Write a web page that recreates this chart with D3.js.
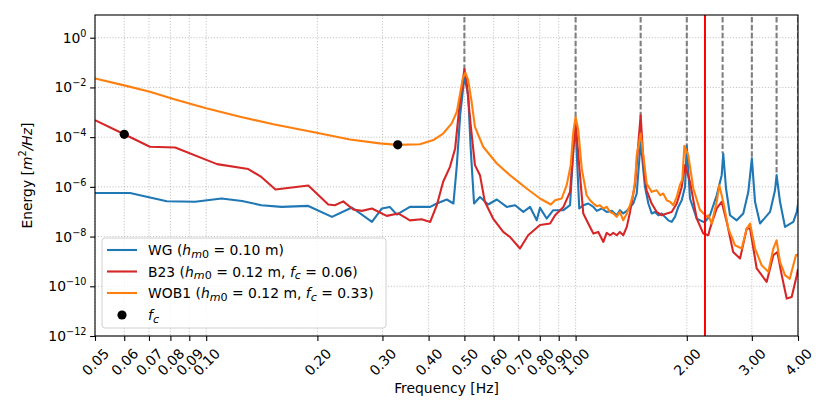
<!DOCTYPE html>
<html>
<head>
<meta charset="utf-8">
<script src="https://cdn.jsdelivr.net/npm/d3@7"></script>
<style>
  body { margin: 0; background: #fff; }
  svg { display: block; font-family: "DejaVu Sans", sans-serif; }
</style>
</head>
<body>
<svg id="chart" width="830" height="415"></svg>
<script>
// spectra (frequency in Hz, energy in m^2/Hz)
var wgFreq = [0.05, 0.0622, 0.0782, 0.0933, 0.110, 0.125, 0.141, 0.160, 0.189, 0.219,
  0.248, 0.281, 0.299, 0.314, 0.328, 0.356, 0.364, 0.404, 0.421, 0.448,
  0.467, 0.477, 0.487, 0.5, 0.512, 0.520, 0.531, 0.551, 0.580, 0.612,
  0.651, 0.686, 0.722, 0.753, 0.785, 0.801, 0.835, 0.870, 0.927, 0.966,
  0.986, 1.0, 1.023, 1.049, 1.082, 1.117, 1.141, 1.177, 1.214, 1.253,
  1.292, 1.318, 1.346, 1.376, 1.404, 1.433, 1.464, 1.5, 1.541, 1.574,
  1.607, 1.641, 1.675, 1.71, 1.745, 1.782, 1.820, 1.858, 1.897, 1.938,
  1.978, 2.0, 2.04, 2.128, 2.217, 2.24, 2.311, 2.41, 2.486, 2.51,
  2.554, 2.618, 2.73, 2.844, 2.935, 3.0, 3.06, 3.157, 3.36, 3.466,
  3.5, 3.576, 3.689, 3.885, 3.97, 4.0];
var wgEnergy = [5.7e-7, 5.7e-7, 2.65e-7, 2.5e-7, 3.4e-7, 2.7e-7, 1.83e-7, 1.56e-7, 1.71e-7, 6.2e-8,
  1.48e-7, 3.9e-8, 1.35e-7, 1.56e-7, 7.7e-8, 1.56e-7, 1.56e-7, 1.56e-7, 2.14e-7, 3.1e-7,
  2.14e-7, 7.5e-6, 7.7e-4, 0.027, 4.9e-3, 3.5e-5, 2.14e-7, 3.9e-7, 1.95e-7, 3.1e-7,
  1.56e-7, 1.83e-7, 9.8e-8, 1.56e-7, 4.5e-8, 1.43e-7, 5.3e-8, 1.15e-7, 1.15e-7, 1.83e-7,
  3.5e-5, 2.5e-4, 1.35e-7, 1.83e-7, 2.14e-7, 1.56e-7, 1.08e-7, 1.35e-7, 9.8e-8, 1.08e-7,
  7.2e-8, 1.15e-7, 8.5e-8, 1.08e-7, 1.56e-7, 2.14e-7, 5.4e-7, 6.5e-5, 1.0e-6, 2.14e-7,
  8.5e-8, 9.8e-8, 7.2e-8, 8.5e-8, 6.2e-8, 4.5e-8, 3.9e-8, 6.2e-8, 1.56e-7, 2.9e-7,
  1.0e-6, 4.5e-5, 3.4e-7, 5.3e-8, 3.9e-8, 3.9e-8, 7.2e-8, 4.6e-7, 2.95e-6, 2.2e-5,
  8.6e-7, 7.2e-8, 4.5e-8, 8.5e-8, 6.3e-7, 1.4e-5, 2.5e-7, 3.35e-8, 9.8e-8, 7.3e-7,
  3e-6, 2.5e-7, 2.45e-8, 3.9e-8, 9.8e-8, 2e-7];

var b23Freq = [0.05, 0.06, 0.0704, 0.0824, 0.107, 0.130, 0.141, 0.154, 0.189, 0.214,
  0.223, 0.235, 0.250, 0.264, 0.281, 0.308, 0.331, 0.356, 0.383, 0.404,
  0.421, 0.438, 0.457, 0.472, 0.484, 0.5, 0.507, 0.520, 0.534, 0.551,
  0.568, 0.598, 0.637, 0.664, 0.707, 0.744, 0.801, 0.853, 0.880, 0.927,
  0.966, 1.0, 1.026, 1.049, 1.082, 1.117, 1.152, 1.189, 1.214, 1.240,
  1.265, 1.292, 1.318, 1.346, 1.376, 1.404, 1.433, 1.448, 1.5, 1.532,
  1.557, 1.607, 1.658, 1.71, 1.765, 1.820, 1.879, 1.938, 1.978, 2.04,
  2.128, 2.217, 2.287, 2.311, 2.41, 2.486, 2.565, 2.67, 2.787, 2.906,
  2.967, 3.092, 3.29, 3.43, 3.516, 3.614, 3.728, 3.846, 3.97, 4.0];
var b23Energy = [4.8e-4, 1.3e-4, 4.1e-5, 3.85e-5, 8.2e-6, 5.2e-6, 2.5e-6, 7.8e-7, 1.14e-6, 1.95e-7,
  1.83e-7, 2.6e-7, 1.23e-7, 1.08e-7, 1.35e-7, 6.8e-8, 8.5e-8, 4.5e-8, 5.0e-8, 3.9e-8,
  1.83e-7, 1.6e-6, 6.4e-6, 3.5e-5, 1.4e-3, 0.055, 0.0169, 3.05e-4, 7.5e-6, 2.95e-6,
  2.5e-7, 5.3e-8, 1.54e-8, 9.7e-9, 3.3e-9, 1.13e-8, 2.9e-8, 3.35e-8, 7.2e-8, 1.56e-7,
  6.3e-7, 4.1e-4, 4.0e-6, 8.5e-8, 3.35e-8, 1.32e-8, 1.54e-8, 6.1e-9, 1.4e-8, 1.13e-8,
  1.4e-8, 1.13e-8, 1.54e-8, 1.13e-8, 2.45e-8, 9.8e-8, 5.4e-7, 1.17e-6, 7.5e-4, 4.0e-6,
  7.3e-7, 2.14e-7, 9.8e-8, 7.2e-8, 8.5e-8, 9.8e-8, 2.14e-7, 1.0e-6, 7.5e-6, 1.6e-6,
  5.3e-8, 1.32e-8, 1.13e-8, 2.1e-8, 1.35e-7, 2.5e-7, 3.9e-8, 2.4e-9, 1.3e-9, 2.1e-8,
  2.1e-8, 5.2e-10, 1.5e-10, 1.77e-9, 2.4e-9, 2.8e-10, 3.2e-11, 3.7e-11, 2.8e-10, 5e-10];

var wob1Freq = [0.05, 0.0596, 0.0704, 0.0815, 0.100, 0.1235, 0.152, 0.199, 0.245, 0.295,
  0.33, 0.379, 0.412, 0.438, 0.462, 0.477, 0.487, 0.495, 0.503, 0.512,
  0.523, 0.534, 0.562, 0.612, 0.664, 0.737, 0.801, 0.857, 0.880, 0.917,
  0.946, 0.970, 0.986, 1.0, 1.017, 1.039, 1.071, 1.094, 1.117, 1.141,
  1.164, 1.189, 1.214, 1.240, 1.265, 1.292, 1.318, 1.346, 1.376, 1.404,
  1.433, 1.45, 1.464, 1.5, 1.525, 1.557, 1.607, 1.658, 1.693, 1.727,
  1.765, 1.802, 1.839, 1.879, 1.917, 1.945, 1.97, 2.018, 2.083, 2.17,
  2.265, 2.287, 2.336, 2.41, 2.449, 2.51, 2.591, 2.70, 2.817, 2.906,
  2.967, 3.06, 3.19, 3.325, 3.43, 3.50, 3.576, 3.689, 3.80, 3.95, 4.0];
var wob1Energy = [0.023, 0.0124, 6.7e-3, 3.4e-3, 1.44e-3, 6.6e-4, 3.3e-4, 1.5e-4, 8.1e-5, 5.6e-5,
  4.9e-5, 5.2e-5, 7.6e-5, 1.4e-4, 3.6e-4, 1.05e-3, 5.8e-3, 0.023, 0.039, 0.0198,
  2.65e-3, 2.6e-4, 4.1e-5, 8.7e-6, 2.95e-6, 8.6e-7, 3.4e-7, 1.95e-7, 2.9e-7, 3.4e-7,
  1.17e-6, 7.5e-6, 1.64e-4, 6.4e-4, 1.9e-4, 5.5e-6, 4.6e-7, 2.9e-7, 2.14e-7, 1.67e-7,
  1.83e-7, 1.35e-7, 1.56e-7, 9.8e-8, 8.5e-8, 6.2e-8, 9.8e-8, 4.5e-8, 8.5e-8, 1.83e-7,
  5.4e-7, 2e-6, 1.9e-5, 1.4e-4, 1.9e-5, 1.37e-6, 6.3e-7, 7.3e-7, 4.6e-7, 5.4e-7,
  2.9e-7, 2.5e-7, 1.83e-7, 3.95e-7, 1.2e-6, 2e-6, 4.5e-5, 1.9e-5, 8.6e-7, 1.2e-7,
  6.2e-8, 7.2e-8, 3.35e-8, 2.5e-7, 1.17e-6, 2.5e-7, 2.1e-8, 4.5e-9, 3.3e-9, 2.1e-8,
  3.35e-8, 3.3e-9, 7.0e-10, 3.8e-10, 3.3e-9, 7.1e-9, 9.5e-10, 2.8e-10, 2.0e-10, 1.8e-9, 1.8e-9];

// legend numbers and cut-off markers
var seriesNames = ["WG", "B23", "WOB1"];
var seriesColors = ["#1f77b4", "#d62728", "#ff7f0e"];
var hm0 = [0.10, 0.12, 0.12];
var fcFreq = [null, 0.06, 0.33];
var fcEnergy = [null, 1.3e-4, 4.9e-5];

// harmonics of the WG peak (dashed) and the red cut-off line
var harmonicFreq = [0.5, 1.0, 1.5, 2.0, 2.5, 3.0, 3.5, 4.0];
var harmonicPeak = [0.027, 2.5e-4, 6.5e-5, 4.5e-5, 2.2e-5, 1.4e-5, 3e-6, 2e-7];
var cutoffFreq = 2.24;

var xTicks = [0.05, 0.06, 0.07, 0.08, 0.09, 0.10, 0.20, 0.30, 0.40, 0.50,
  0.60, 0.70, 0.80, 0.90, 1.00, 2.00, 3.00, 4.00];
var yTickExp = [0, -2, -4, -6, -8, -10, -12];

var W = 830, H = 415;
var margin = {top: 15, right: 32, bottom: 79, left: 95};
var fs = 13.9;

var svg = d3.select("#chart");
var x = d3.scaleLog().domain([0.05, 4]).range([margin.left, W - margin.right]);
var y = d3.scaleLog().domain([1e-12, 8.2]).range([H - margin.bottom, margin.top]);
var x0 = x.range()[0], x1 = x.range()[1], yB = y.range()[0], yT = y.range()[1];

svg.append("defs").append("clipPath").attr("id", "plot")
  .append("rect").attr("x", x0).attr("y", yT).attr("width", x1 - x0).attr("height", yB - yT);

// writes mathtext-like pieces: i = italic, sub / sup = shifted small
function rich(text, parts, subScale) {
  var shift = 0;
  subScale = subScale || 0.7;
  parts.forEach(function(p) {
    var t = text.append("tspan").text(p[0]);
    var style = p[1] || "";
    var want = style.indexOf("sub") >= 0 ? 2.8 : (style.indexOf("sup") >= 0 ? -6 : 0);
    if (want != shift) { t.attr("dy", want - shift); shift = want; }
    if (style.indexOf("i") == 0) t.attr("font-style", "italic");
    if (want != 0) t.attr("font-size", fs * subScale);
  });
}

// grid
var grid = svg.append("g").attr("stroke", "#b0b0b0").attr("stroke-width", 0.8)
  .attr("stroke-dasharray", "1.1,1.8");
grid.selectAll(".gx").data(xTicks).enter().append("line")
  .attr("x1", function(d) { return x(d); }).attr("x2", function(d) { return x(d); })
  .attr("y1", yT).attr("y2", yB);
grid.selectAll(".gy").data(yTickExp).enter().append("line")
  .attr("x1", x0).attr("x2", x1)
  .attr("y1", function(d) { return y(Math.pow(10, d)); })
  .attr("y2", function(d) { return y(Math.pow(10, d)); });

var plot = svg.append("g").attr("clip-path", "url(#plot)");

// dashed harmonic lines
plot.selectAll(".harm").data(harmonicFreq).enter().append("line")
  .attr("x1", function(d) { return x(d); }).attr("x2", function(d) { return x(d); })
  .attr("y1", yT + 2).attr("y2", function(d, i) { return y(harmonicPeak[i]); })
  .attr("stroke", "#7f7f7f").attr("stroke-width", 2.1).attr("stroke-dasharray", "5.5,2.4");

// spectra
var line = d3.line().x(function(d) { return x(d[0]); }).y(function(d) { return y(d[1]); });
var spectra = [d3.zip(wgFreq, wgEnergy), d3.zip(b23Freq, b23Energy), d3.zip(wob1Freq, wob1Energy)];
plot.selectAll(".spec").data(spectra).enter().append("path")
  .attr("d", line).attr("fill", "none")
  .attr("stroke", function(d, i) { return seriesColors[i]; })
  .attr("stroke-width", 2.1).attr("stroke-linejoin", "round");

// cut-off
plot.append("line").attr("x1", x(cutoffFreq)).attr("x2", x(cutoffFreq))
  .attr("y1", yT).attr("y2", yB).attr("stroke", "#ff0000").attr("stroke-width", 2);

// f_c markers
plot.selectAll(".fc").data(d3.range(1, 3)).enter().append("circle")
  .attr("cx", function(i) { return x(fcFreq[i]); })
  .attr("cy", function(i) { return y(fcEnergy[i]); })
  .attr("r", 4.6).attr("fill", "#000");

// frame
svg.append("rect").attr("x", x0).attr("y", yT).attr("width", x1 - x0).attr("height", yB - yT)
  .attr("fill", "none").attr("stroke", "#000").attr("stroke-width", 1.1);

// x axis
var xAxis = svg.append("g").attr("transform", "translate(0," + yB + ")")
  .call(d3.axisBottom(x).tickValues(xTicks).tickFormat(d3.format(".2f")).tickSize(4.9).tickSizeOuter(0));
xAxis.select(".domain").remove();
xAxis.selectAll("line").attr("stroke", "#000").attr("stroke-width", 1.1);
xAxis.selectAll("text")
  .attr("font-family", "DejaVu Sans").attr("font-size", fs).attr("fill", "#000")
  .attr("y", 0).attr("dy", "0.35em").attr("text-anchor", "middle")
  .attr("transform", "translate(0,26) rotate(-45)");

// y axis
var yAxis = svg.append("g").attr("transform", "translate(" + x0 + ",0)")
  .call(d3.axisLeft(y).tickValues(yTickExp.map(function(e) { return Math.pow(10, e); }))
    .tickFormat("").tickSize(4.9).tickSizeOuter(0));
yAxis.select(".domain").remove();
yAxis.selectAll("line").attr("stroke", "#000").attr("stroke-width", 1.1);
yTickExp.forEach(function(e) {
  var t = svg.append("text").attr("x", x0 - 8.5).attr("y", y(Math.pow(10, e)) + 5)
    .attr("text-anchor", "end").attr("font-size", fs);
  rich(t, [["10", ""], [e == 0 ? "0" : "\u2212" + (-e), "sup"]]);
});

// axis labels
svg.append("text").attr("x", (x0 + x1) / 2).attr("y", 393).attr("text-anchor", "middle")
  .attr("font-size", fs).text("Frequency [Hz]");
var yl = svg.append("text").attr("text-anchor", "middle").attr("font-size", fs)
  .attr("transform", "translate(32," + (yT + yB) / 2 + ") rotate(-90)");
rich(yl, [["Energy [", ""], ["m", "i"], ["2", "sup"], ["/Hz", "i"], ["]", ""]]);

// legend
var lg = svg.append("g");
lg.append("rect").attr("x", 102).attr("y", 238).attr("width", 284).attr("height", 90)
  .attr("rx", 3).attr("fill", "#fff").attr("fill-opacity", 0.8)
  .attr("stroke", "#d0d0d0").attr("stroke-width", 1);
var rowY = [250, 271.5, 293, 315];
seriesNames.forEach(function(name, i) {
  lg.append("line").attr("x1", 107).attr("x2", 137).attr("y1", rowY[i]).attr("y2", rowY[i])
    .attr("stroke", seriesColors[i]).attr("stroke-width", 2.1);
  var t = lg.append("text").attr("x", 148).attr("y", rowY[i] + 5).attr("font-size", fs);
  var parts = [[name + " (", ""], ["h", "i"], ["m", "isub"], ["0", "sub"],
    [" = " + hm0[i].toFixed(2) + " m" + (fcFreq[i] == null ? ")" : ", "), ""]];
  if (fcFreq[i] != null) parts = parts.concat([["f", "i"], ["c", "isub"], [" = " + fcFreq[i].toFixed(2) + ")", ""]]);
  rich(t, parts, 0.8);
});
lg.append("circle").attr("cx", 122).attr("cy", rowY[3]).attr("r", 4.6).attr("fill", "#000");
rich(lg.append("text").attr("x", 148).attr("y", rowY[3] + 5).attr("font-size", fs),
  [["f", "i"], ["c", "isub"]], 0.8);
</script>
</body>
</html>
